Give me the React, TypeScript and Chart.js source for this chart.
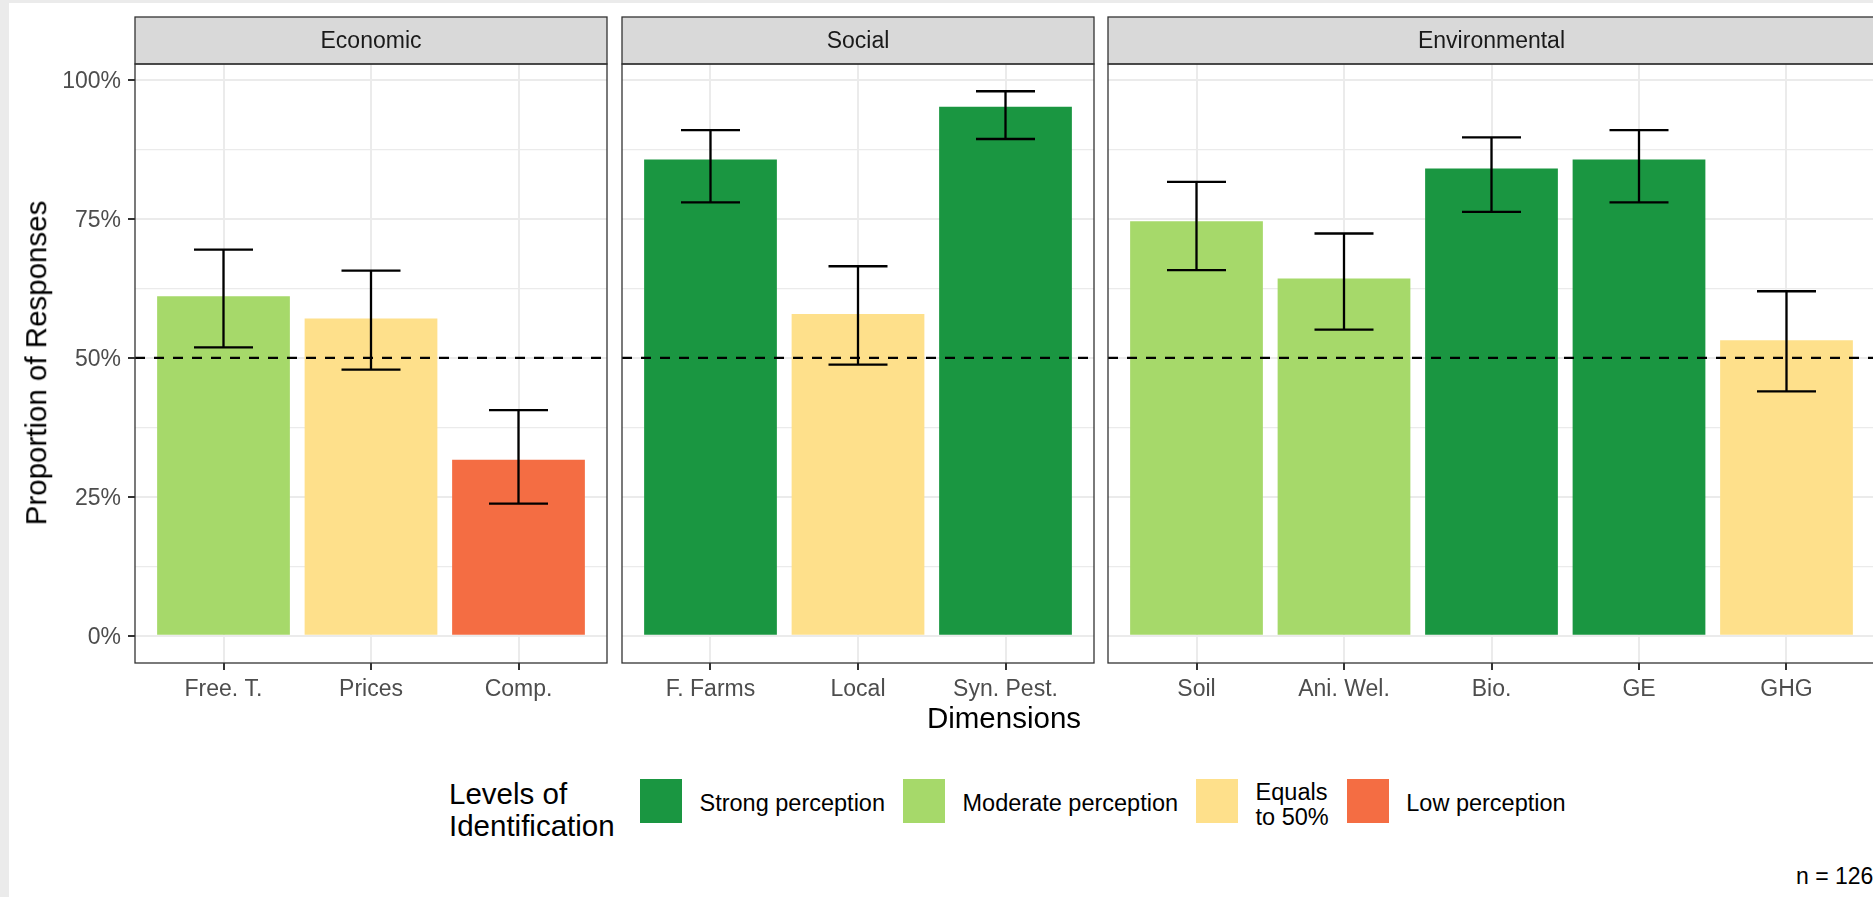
import React, { useEffect, useRef } from 'react';
import { Chart, registerables } from 'chart.js';

Chart.register(...registerables);

const FONT = "'Liberation Sans', Arial, Helvetica, sans-serif";

// ---------- data ----------
const facetTitles = ['Economic', 'Social', 'Environmental'];

const economicCategories = ['Free. T.', 'Prices', 'Comp.'];
const economicValues = [61.1, 57.1, 31.7];
const economicLower = [51.9, 47.9, 23.8];
const economicUpper = [69.5, 65.7, 40.6];
const economicLevels = ['Moderate perception', 'Equals to 50%', 'Low perception'];

const socialCategories = ['F. Farms', 'Local', 'Syn. Pest.'];
const socialValues = [85.7, 57.9, 95.2];
const socialLower = [78.0, 48.8, 89.4];
const socialUpper = [91.0, 66.5, 98.0];
const socialLevels = ['Strong perception', 'Equals to 50%', 'Strong perception'];

const environmentalCategories = ['Soil', 'Ani. Wel.', 'Bio.', 'GE', 'GHG'];
const environmentalValues = [74.6, 64.3, 84.1, 85.7, 53.2];
const environmentalLower = [65.8, 55.1, 76.3, 78.0, 44.0];
const environmentalUpper = [81.7, 72.4, 89.7, 91.0, 62.0];
const environmentalLevels = [
  'Moderate perception',
  'Moderate perception',
  'Strong perception',
  'Strong perception',
  'Equals to 50%',
];

const levelNames = ['Strong perception', 'Moderate perception', 'Equals to 50%', 'Low perception'];
const levelLegendLines = [['Strong perception'], ['Moderate perception'], ['Equals', 'to 50%'], ['Low perception']];
const levelColors = ['#1A9641', '#A6D96A', '#FEE08B', '#F46D43'];

const yTickValues = [0, 25, 50, 75, 100];
const yMinorValues = [12.5, 37.5, 62.5, 87.5];
const referenceLine = 50;
const sampleSize = 126;

const yAxisTitle = 'Proportion of Responses';
const xAxisTitle = 'Dimensions';
const legendTitle = 'Levels of\nIdentification';

// ---------- layout (positions / styles) ----------
const STRIP_TOP = 17;
const PANEL_TOP = 64;
const PANEL_BOTTOM = 663;
const CANVAS_H = 712;
const CATEGORY_STEP = 147.5;
const X_EXPAND = 0.6;
const PANEL_LEFTS = [135, 622, 1108];
const GRID = '#ebebeb';
const AXIS = '#333333';
const TICK_TEXT = '#4d4d4d';

const dataMax = Math.max(...economicUpper, ...socialUpper, ...environmentalUpper);
const Y_MIN = -0.05 * dataMax;
const Y_MAX = dataMax * 1.05;

type PanelProps = {
  index: number;
  categories: string[];
  values: number[];
  lower: number[];
  upper: number[];
  levels: string[];
  showYAxis: boolean;
};

function FacetPanel({ index, categories, values, lower, upper, levels, showYAxis }: PanelProps) {
  const ref = useRef<HTMLCanvasElement>(null);
  const panelLeft = PANEL_LEFTS[index];
  const panelWidth = (categories.length - 1 + 2 * X_EXPAND) * CATEGORY_STEP;
  const yAxisWidth = showYAxis ? panelLeft : 2;
  const canvasLeft = panelLeft - yAxisWidth;
  const canvasWidth = Math.round(yAxisWidth + panelWidth + 2);
  const title = facetTitles[index];

  useEffect(() => {
    const isMajor = (v: number) => yTickValues.includes(v);
    const decor = {
      id: 'facetDecor' + index,
      afterDatasetsDraw(chart: any) {
        const { ctx, chartArea: a, scales } = chart;
        const x = scales.x;
        const y = scales.y;
        const meta = chart.getDatasetMeta(0);
        ctx.save();
        ctx.strokeStyle = '#000000';
        ctx.lineWidth = 2.3;
        // error bars
        const step = x.getPixelForValue(1) - x.getPixelForValue(0);
        const half = step * 0.2;
        meta.data.forEach((bar: any, i: number) => {
          const yt = y.getPixelForValue(upper[i]);
          const yb = y.getPixelForValue(lower[i]);
          ctx.beginPath();
          ctx.moveTo(bar.x, yt);
          ctx.lineTo(bar.x, yb);
          ctx.moveTo(bar.x - half, yt);
          ctx.lineTo(bar.x + half, yt);
          ctx.moveTo(bar.x - half, yb);
          ctx.lineTo(bar.x + half, yb);
          ctx.stroke();
        });
        // reference line
        const yr = y.getPixelForValue(referenceLine);
        ctx.lineWidth = 2.2;
        ctx.setLineDash([10, 9]);
        ctx.beginPath();
        ctx.moveTo(a.left, yr);
        ctx.lineTo(a.right, yr);
        ctx.stroke();
        ctx.restore();
      },
      afterDraw(chart: any) {
        const { ctx, chartArea: a } = chart;
        ctx.save();
        ctx.fillStyle = '#d9d9d9';
        ctx.fillRect(a.left, STRIP_TOP, a.right - a.left, a.top - STRIP_TOP);
        ctx.strokeStyle = AXIS;
        ctx.lineWidth = 1.3;
        ctx.strokeRect(a.left, STRIP_TOP, a.right - a.left, a.top - STRIP_TOP);
        ctx.strokeRect(a.left, a.top, a.right - a.left, a.bottom - a.top);
        ctx.fillStyle = '#1a1a1a';
        ctx.font = `23px ${FONT}`;
        ctx.textAlign = 'center';
        ctx.textBaseline = 'middle';
        ctx.fillText(title, (a.left + a.right) / 2, (STRIP_TOP + a.top) / 2 + 1);
        ctx.restore();
      },
    };

    const chart = new Chart(ref.current as HTMLCanvasElement, {
      type: 'bar',
      data: {
        labels: categories,
        datasets: [
          {
            data: values,
            backgroundColor: levels.map((l) => levelColors[levelNames.indexOf(l)]),
            borderWidth: 0,
            categoryPercentage: 1,
            barPercentage: 0.9,
          },
        ],
      },
      options: {
        responsive: false,
        maintainAspectRatio: false,
        animation: false,
        events: [],
        layout: { padding: { top: PANEL_TOP, right: 2, left: 0, bottom: 0 } },
        plugins: { legend: { display: false }, tooltip: { enabled: false } },
        scales: {
          x: {
            type: 'category',
            offset: false,
            afterBuildTicks: (s: any) => {
              s._startValue = -X_EXPAND;
              s._valueRange = s.ticks.length - 1 + 2 * X_EXPAND;
            },
            afterFit: (s: any) => {
              s.height = CANVAS_H - PANEL_BOTTOM;
            },
            grid: {
              offset: false,
              color: GRID,
              lineWidth: 2,
              drawTicks: true,
              tickLength: 7,
              tickColor: AXIS,
              tickWidth: 2,
            },
            border: { display: false },
            ticks: {
              color: TICK_TEXT,
              font: { family: FONT, size: 23 },
              padding: 6,
              maxRotation: 0,
              minRotation: 0,
              autoSkip: false,
            },
          },
          y: {
            type: 'linear',
            min: Y_MIN,
            max: Y_MAX,
            bounds: 'data',
            afterBuildTicks: (s: any) => {
              s.ticks = [...yTickValues, ...yMinorValues].sort((a, b) => a - b).map((v) => ({ value: v }));
            },
            afterFit: (s: any) => {
              s.width = yAxisWidth;
            },
            grid: {
              color: GRID,
              lineWidth: (c: any) => (c.tick && isMajor(c.tick.value) ? 2 : 1.2),
              drawTicks: showYAxis,
              tickLength: 7,
              tickWidth: 2,
              tickColor: (c: any) => (c.tick && isMajor(c.tick.value) ? AXIS : 'rgba(0,0,0,0)'),
            },
            border: { display: false },
            ticks: {
              display: showYAxis,
              autoSkip: false,
              color: TICK_TEXT,
              font: { family: FONT, size: 23 },
              padding: 7,
              labelOffset: 2,
              callback: (v: any) => (yTickValues.includes(Number(v)) ? `${v}%` : ''),
            },
          },
        },
      } as any,
      plugins: [decor],
    });
    return () => chart.destroy();
  }, []);

  return (
    <canvas
      ref={ref}
      width={canvasWidth}
      height={CANVAS_H}
      style={{ position: 'absolute', left: canvasLeft, top: 0, width: canvasWidth, height: CANVAS_H }}
    />
  );
}

export default function App() {
  return (
    <div
      style={{
        position: 'fixed',
        left: 0,
        top: 0,
        width: 1873,
        height: 897,
        overflow: 'hidden',
        background: '#ebebeb',
        fontFamily: FONT,
        color: '#000',
      }}
    >
      <div style={{ position: 'absolute', left: 9, top: 3, right: 0, bottom: 0, background: '#ffffff' }} />
      <FacetPanel
        index={0}
        categories={economicCategories}
        values={economicValues}
        lower={economicLower}
        upper={economicUpper}
        levels={economicLevels}
        showYAxis={true}
      />
      <FacetPanel
        index={1}
        categories={socialCategories}
        values={socialValues}
        lower={socialLower}
        upper={socialUpper}
        levels={socialLevels}
        showYAxis={false}
      />
      <FacetPanel
        index={2}
        categories={environmentalCategories}
        values={environmentalValues}
        lower={environmentalLower}
        upper={environmentalUpper}
        levels={environmentalLevels}
        showYAxis={false}
      />

      <div
        style={{
          position: 'absolute',
          left: 36,
          top: 363,
          transform: 'translate(-50%, -50%) rotate(-90deg)',
          fontSize: 29.5,
          lineHeight: '29.5px',
          whiteSpace: 'nowrap',
        }}
      >
        {yAxisTitle}
      </div>

      <div
        style={{
          position: 'absolute',
          left: 1004,
          top: 703,
          transform: 'translateX(-50%)',
          fontSize: 29.5,
          lineHeight: '29.5px',
          whiteSpace: 'nowrap',
        }}
      >
        {xAxisTitle}
      </div>

      <div
        style={{
          position: 'absolute',
          left: 449,
          top: 778,
          fontSize: 29.5,
          lineHeight: '32px',
          whiteSpace: 'pre',
        }}
      >
        {legendTitle}
      </div>

      <div
        style={{
          position: 'absolute',
          left: 640,
          top: 779,
          height: 44,
          display: 'flex',
          alignItems: 'center',
          whiteSpace: 'nowrap',
        }}
      >
        {levelNames.map((name, i) => (
          <React.Fragment key={name}>
            <div style={{ width: 42, height: 44, background: levelColors[i], flex: 'none' }} />
            <div
              style={{
                marginLeft: 17.5,
                marginRight: 18,
                fontSize: 23.5,
                lineHeight: '25px',
                paddingTop: levelLegendLines[i].length > 1 ? 7 : 4,
              }}
            >
              {levelLegendLines[i].map((line) => (
                <div key={line}>{line}</div>
              ))}
            </div>
          </React.Fragment>
        ))}
      </div>

      <div
        style={{
          position: 'absolute',
          left: 1796,
          top: 865,
          fontSize: 23,
          lineHeight: '23px',
          whiteSpace: 'nowrap',
        }}
      >
        n = {sampleSize}
      </div>
    </div>
  );
}
